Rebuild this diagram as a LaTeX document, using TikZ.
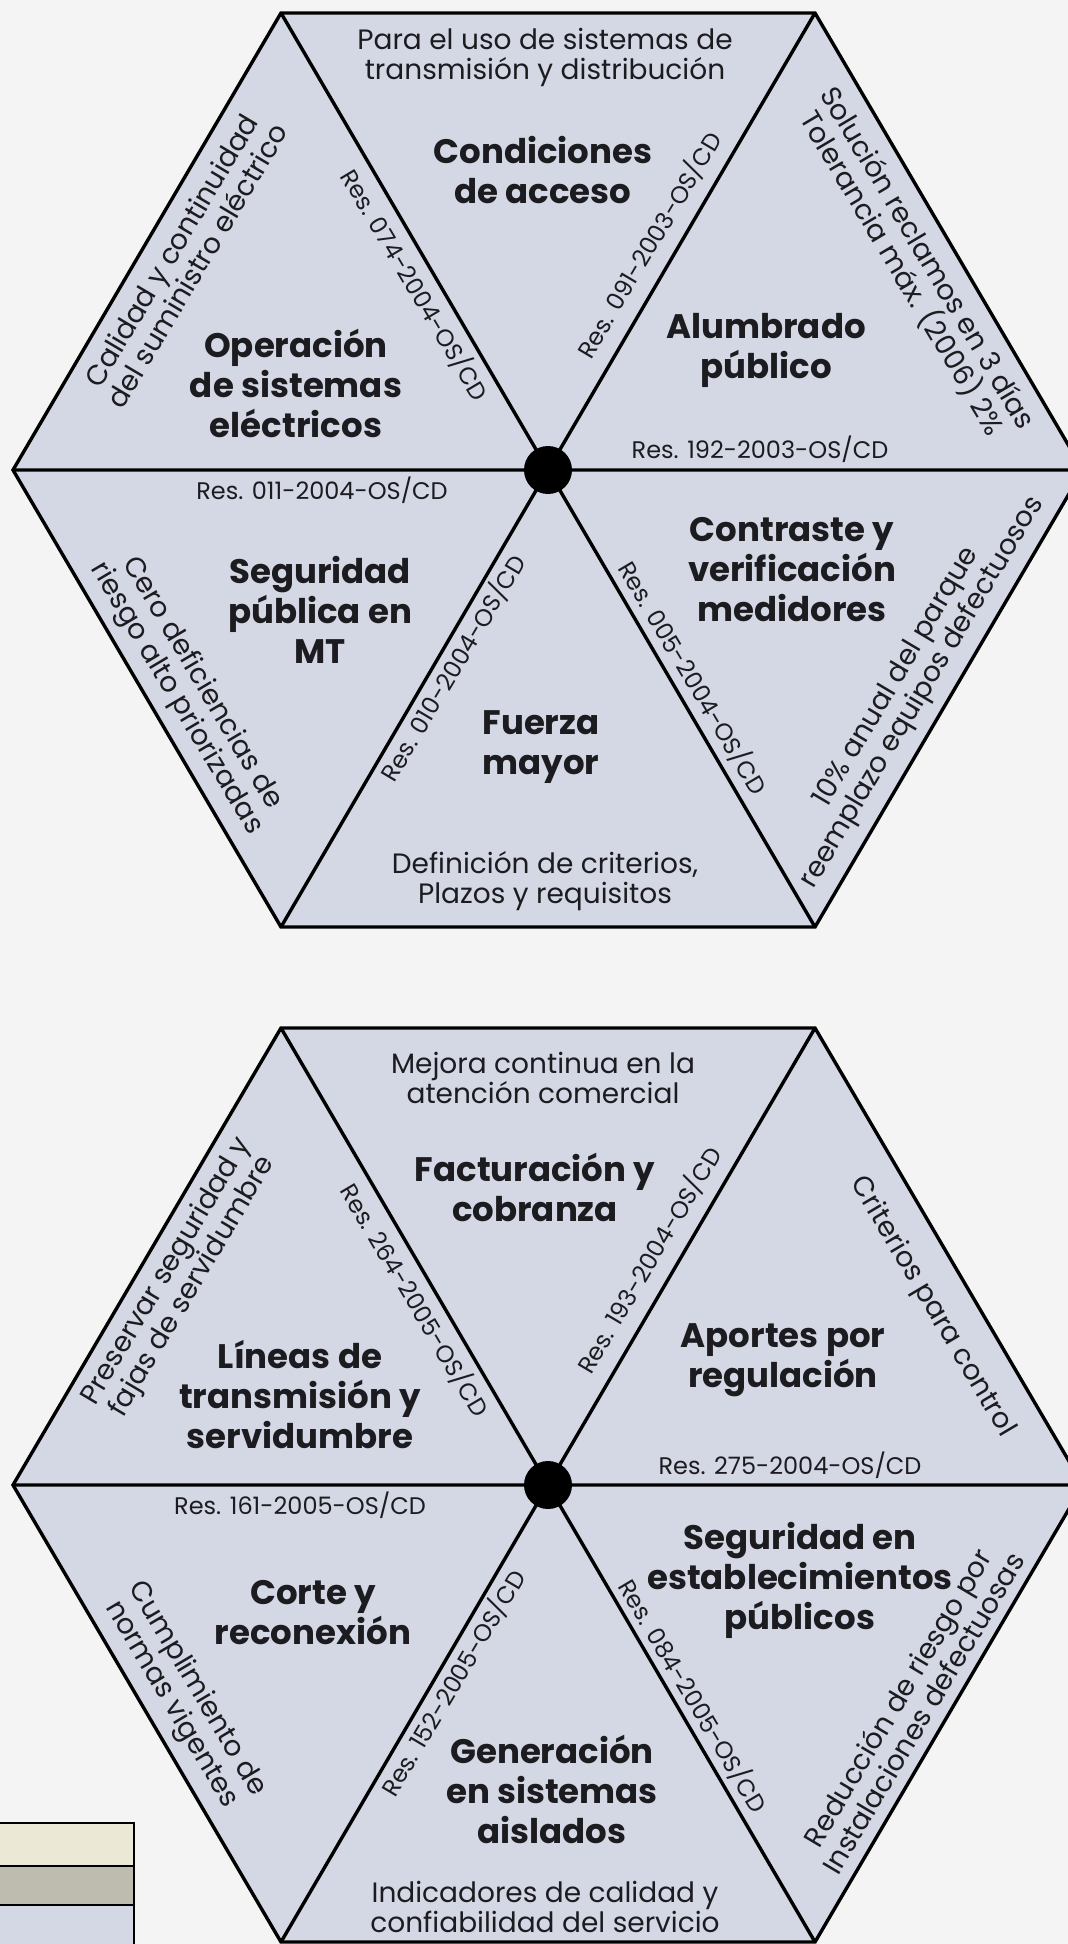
\documentclass[tikz,border=0pt]{standalone}
\usepackage{fontspec}
\setmainfont{Poppins}
\definecolor{fondo}{RGB}{244,244,245}
\definecolor{hexa}{RGB}{212,215,228}
\definecolor{crema}{RGB}{236,232,214}
\definecolor{pardo}{RGB}{190,188,174}
\definecolor{tinta}{RGB}{28,28,32}
\tikzset{
  lado/.style={line width=1.7pt,draw=black,line join=miter},
  tema/.style={font=\fontsize{17}{20}\selectfont\bfseries,align=center,text=tinta,inner sep=0pt},
  meta/.style={font=\fontsize{14}{15}\selectfont,align=center,text=tinta,inner sep=0pt},
  norma/.style={font=\fontsize{12}{13}\selectfont,text=tinta,inner sep=0pt}
}
\begin{document}
\begin{tikzpicture}[x=0.5pt,y=-0.5pt]
    \useasboundingbox (0,0) rectangle (1068,1944);
    \fill[fondo] (0,0) rectangle (1068,1944);
    \foreach \h/\cy in {a/470,b/1485}{
        \coordinate (\h-c) at (548,\cy);
        \coordinate (\h-l) at (13,\cy);
        \coordinate (\h-r) at (1083,\cy);
        \coordinate (\h-tl) at (281,\cy-457);
        \coordinate (\h-tr) at (815,\cy-457);
        \coordinate (\h-bl) at (281,\cy+457);
        \coordinate (\h-br) at (815,\cy+457);
        \filldraw[lado,fill=hexa] (\h-l) -- (\h-tl) -- (\h-tr) -- (\h-r) -- (\h-br) -- (\h-bl) -- cycle;
        \draw[lado] (\h-l) -- (\h-r) (\h-tl) -- (\h-br) (\h-tr) -- (\h-bl);
        \fill (\h-c) circle[radius=24];
    }
    \fill[crema] (0,1823) rectangle (134,1866);
    \fill[pardo] (0,1866) rectangle (134,1905);
    \fill[hexa] (0,1905) rectangle (134,1944);
    \draw[line width=1pt] (0,1823) -- (134,1823) -- (134,1944) (0,1866) -- (134,1866) (0,1905) -- (134,1905);
    % hexagono superior
    \node[meta] (a-top-meta) at (545,57) {Para el uso de sistemas de\\transmisión y distribución};
    \node[tema] (a-top) at (543,170) {Condiciones\\de acceso};
    \node[norma,rotate=59.3] (a-top-res) at (649,245) {Res. 091-2003-OS/CD};
    \node[tema] (a-ul) at (296,383) {Operación\\de sistemas\\eléctricos};
    \node[meta,rotate=59.3] (a-ul-meta) at (184,258) {Calidad y continuidad\\del suministro eléctrico};
    \node[norma,rotate=-59.3] (a-ul-res) at (415,285) {Res. 074-2004-OS/CD};
    \node[tema] (a-ur) at (766,350) {Alumbrado\\público};
    \node[meta,rotate=-59.3] (a-ur-meta) at (914,266) {Solución reclamos en 3 días\\Tolerancia máx. (2006) 2\%};
    \node[norma] (a-ur-res) at (760,449) {Res. 192-2003-OS/CD};
    \node[norma] (a-ll-res) at (322,490) {Res. 011-2004-OS/CD};
    \node[tema] (a-ll) at (320,610) {Seguridad\\pública en\\MT};
    \node[meta,rotate=-59.3] (a-ll-meta) at (189,691) {Cero deficiencias de\\riesgo alto priorizadas};
    \node[tema] (a-bot) at (541,747) {Fuerza\\mayor};
    \node[meta] (a-bot-meta) at (545,881) {Definición de criterios,\\Plazos y requisitos};
    \node[norma,rotate=59.3] (a-bot-res) at (453,668) {Res. 010-2004-OS/CD};
    \node[tema] (a-lr) at (792,570) {Contraste y\\verificación\\medidores};
    \node[norma,rotate=-59.3] (a-lr-res) at (693,678) {Res. 005-2004-OS/CD};
    \node[meta,rotate=59.3] (a-lr-meta) at (910,685) {10\% anual del parque\\reemplazo equipos defectuosos};
    % hexagono inferior
    \node[meta] (b-top-meta) at (543,1078) {Mejora continua en la\\atención comercial};
    \node[tema] (b-top) at (535,1187) {Facturación y\\cobranza};
    \node[norma,rotate=59.3] (b-top-res) at (649,1260) {Res. 193-2004-OS/CD};
    \node[tema] (b-ul) at (300,1395) {Líneas de\\transmisión y\\servidumbre};
    \node[meta,rotate=59.3] (b-ul-meta) at (180,1279) {Preservar seguridad y\\fajas de servidumbre};
    \node[norma,rotate=-59.3] (b-ul-res) at (415,1300) {Res. 264-2005-OS/CD};
    \node[tema] (b-ur) at (783,1360) {Aportes por\\regulación};
    \node[meta,rotate=-59.3] (b-ur-meta) at (932,1307) {Criterios para control};
    \node[norma] (b-ur-res) at (790,1465) {Res. 275-2004-OS/CD};
    \node[norma] (b-ll-res) at (300,1505) {Res. 161-2005-OS/CD};
    \node[tema] (b-ll) at (313,1613) {Corte y\\reconexión};
    \node[meta,rotate=-59.3] (b-ll-meta) at (184,1697) {Cumplimiento de\\normas vigentes};
    \node[tema] (b-bot) at (552,1789) {Generación\\en sistemas\\aislados};
    \node[meta] (b-bot-meta) at (545,1907) {Indicadores de calidad y\\confiabilidad del servicio};
    \node[norma,rotate=59.3] (b-bot-res) at (453,1683) {Res. 152-2005-OS/CD};
    \node[tema] (b-lr) at (800,1580) {Seguridad en\\establecimientos\\públicos};
    \node[norma,rotate=-59.3] (b-lr-res) at (693,1696) {Res. 084-2005-OS/CD};
    \node[meta,rotate=59.3] (b-lr-meta) at (910,1705) {Reducción de riesgo por\\Instalaciones defectuosas};
\end{tikzpicture}
\end{document}
